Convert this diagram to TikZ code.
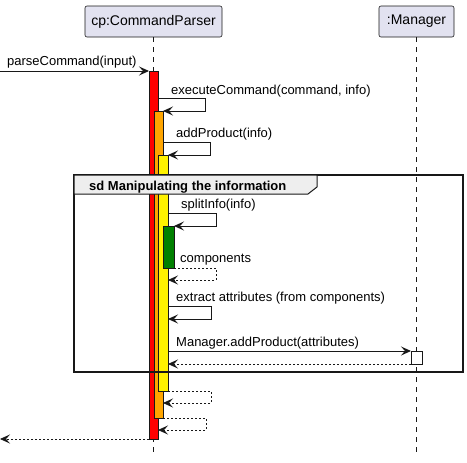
\documentclass[tikz,border=0pt]{standalone}
\usepackage{fontspec}
\setmainfont{Liberation Sans}
\usetikzlibrary{arrows.meta}

\definecolor{partfill}{HTML}{E2E2F0}
\definecolor{lineclr}{HTML}{181818}
\definecolor{tabfill}{HTML}{EEEEEE}
\definecolor{actorange}{HTML}{FFA500}
\definecolor{actgreen}{HTML}{008000}

\begin{document}
\begin{tikzpicture}[x=1pt,y=-1pt,
    part/.style={draw=lineclr,fill=partfill,rounded corners=2pt,line width=0.6pt,
        minimum height=31pt,inner sep=0pt,font=\fontsize{14}{16}\selectfont},
    life/.style={lineclr,line width=0.5pt,dash pattern=on 5pt off 5pt},
    msg/.style={lineclr,line width=1pt,-{Stealth[length=10pt,width=9pt,inset=4pt]}},
    ret/.style={msg,line width=0.8pt,dash pattern=on 2pt off 2pt},
    act/.style={draw=lineclr,line width=1pt},
    lbl/.style={anchor=base west,inner sep=0pt,font=\fontsize{13}{15}\selectfont}]
\useasboundingbox (0,0) rectangle (467,463);

% participants
\node[part,minimum width=137pt] (cp) at (153.5,21.5) {cp:CommandParser};
\node[part,minimum width=75pt] (mgr) at (416.5,21.5) {:Manager};
\draw[life] (cp.south) -- ++(0,418);
\draw[life] (mgr.south) -- ++(0,418);

% activations
\draw[act,fill=red] (149,71) rectangle (158,439);
\draw[act,fill=actorange] (154,111) rectangle (163,418);
\draw[act,fill=yellow] (158,155) rectangle (168,391);
\draw[act,fill=actgreen] (163,226) rectangle (174,268);
\draw[act,fill=white,line width=0.8pt] (411,351) rectangle (422,364);

% frame
\draw[lineclr,line width=1.6pt] (74,175) rectangle (463,372);
\draw[lineclr,line width=1pt,fill=tabfill] (74,175) -- (317,175) -- (317,187) -- (308,194) -- (74,194) -- cycle;
\node[lbl,font=\fontsize{13}{15}\selectfont\bfseries] (sd) at (89,190) {sd Manipulating the information};

% messages
\coordinate (in) at (0,71);
\coordinate (out) at (0,439);
\draw[msg] (in) -- (149,71);
\node[lbl] (m1) at (7,66) {parseCommand(input)};

\draw[msg] (158,98) -- (205,98) -- (205,111) -- (163,111);
\node[lbl] (m2) at (171,94) {executeCommand(command, info)};

\draw[msg] (163,142) -- (210,142) -- (210,155) -- (168,155);
\node[lbl] (m3) at (176,137) {addProduct(info)};

\draw[msg] (168,213) -- (216,213) -- (216,226) -- (174,226);
\node[lbl] (m4) at (181,208) {splitInfo(info)};

\draw[ret] (174,268) -- (216,268) -- (216,280) -- (168,280);
\node[lbl] (m5) at (180,262) {components};

\draw[msg] (168,306) -- (211,306) -- (211,319) -- (168,319);
\node[lbl] (m6) at (176,301) {extract attributes (from components)};

\draw[msg] (168,351) -- (411,351);
\node[lbl] (m7) at (176,346) {Manager.addProduct(attributes)};
\draw[ret] (411,364) -- (168,364);

% returns
\draw[ret] (168,391) -- (211,391) -- (211,403) -- (163,403);
\draw[ret] (163,418) -- (206,418) -- (206,430) -- (158,430);
\draw[ret] (149,439) -- (out);

\end{tikzpicture}
\end{document}
